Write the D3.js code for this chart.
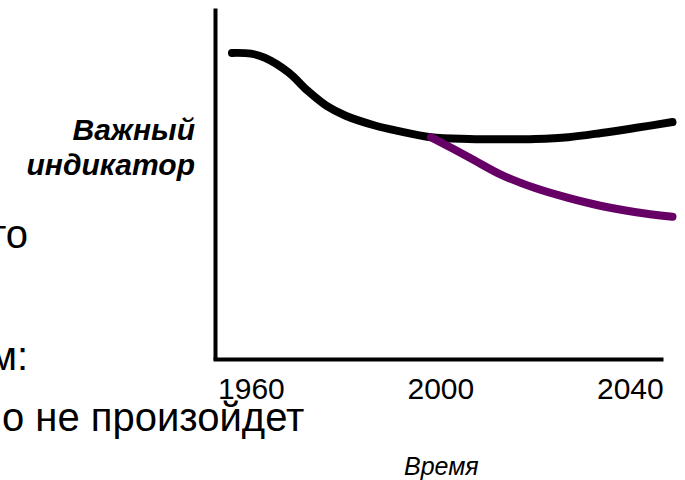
<!DOCTYPE html>
<html><head><meta charset="utf-8">
<script src="https://cdn.jsdelivr.net/npm/d3@7"></script>
<style>body{margin:0;background:#fff}svg{display:block}</style>
</head><body>
<svg id="c" width="685" height="480"></svg>
<script>
// Baseline indicator trajectory (black)
const baseYears  = [1956, 1960, 1963, 1968, 1972, 1976, 1980, 1986, 1991, 1998, 2006, 2013, 2020, 2027, 2034, 2041, 2049];
const baseValues = [87.2, 87.0, 85.8, 81.6, 76.4, 72.1, 69.3, 66.6, 65.0, 63.2, 62.7, 62.6, 62.7, 63.2, 64.4, 65.8, 67.5];
// Alternative trajectory (purple)
const altYears  = [1998, 2006, 2013, 2020, 2027, 2034, 2041, 2049];
const altValues = [63.2, 57.5, 52.4, 48.7, 45.9, 43.6, 41.9, 40.5];
const tickYears = [1960, 2000, 2040];
const yLabel = ["Важный", "индикатор"];
const xLabel = "Время";
const fragments = ["то", "м:", "о не произойдет"];

const svg = d3.select("#c");
const x = d3.scaleLinear().domain([1952, 2047]).range([213, 663]);
const y = d3.scaleLinear().domain([0, 100]).range([359, 8]);
const font = "Liberation Sans, Arial, sans-serif";

// background slide text fragments
svg.append("text").attr("x", 28).attr("y", 248).attr("text-anchor", "end")
  .attr("font-family", font).attr("font-size", 40).attr("fill", "#000").text(fragments[0]);
svg.append("text").attr("x", 28).attr("y", 370).attr("text-anchor", "end")
  .attr("font-family", font).attr("font-size", 40).attr("fill", "#000").text(fragments[1]);
svg.append("text").attr("x", 2).attr("y", 431)
  .attr("font-family", font).attr("font-size", 40).attr("fill", "#000").text(fragments[2]);

// axes
const xAxis = d3.axisBottom(x).tickValues(tickYears).tickFormat(d3.format("d")).tickSize(0).tickPadding(19);
const gx = svg.append("g").attr("transform", "translate(0,359)").call(xAxis);
gx.select(".domain").attr("stroke", "#000").attr("stroke-width", 4);
gx.selectAll("text").attr("font-family", font).attr("font-size", 30).attr("fill", "#000");

const yAxis = d3.axisLeft(y).tickValues([]).tickSizeOuter(0);
const gy = svg.append("g").attr("transform", "translate(215,0)").call(yAxis);
gy.select(".domain").attr("stroke", "#000").attr("stroke-width", 4);

// lines
const line = d3.line().x(d => x(d[0])).y(d => y(d[1])).curve(d3.curveCatmullRom.alpha(0.5));
svg.append("path").datum(baseYears.map((d, i) => [d, baseValues[i]]))
  .attr("d", line).attr("fill", "none").attr("stroke", "#000").attr("stroke-width", 8).attr("stroke-linecap", "round");
svg.append("path").datum(altYears.map((d, i) => [d, altValues[i]]))
  .attr("d", line).attr("fill", "none").attr("stroke", "#660066").attr("stroke-width", 8).attr("stroke-linecap", "round");

// labels
const lab = svg.append("text").attr("text-anchor", "end")
  .attr("font-family", font).attr("font-size", 30)
  .attr("font-weight", "bold").attr("font-style", "italic").attr("fill", "#000");
lab.append("tspan").attr("x", 195).attr("y", 140).text(yLabel[0]);
lab.append("tspan").attr("x", 195).attr("y", 175).text(yLabel[1]);

svg.append("text").attr("x", 404).attr("y", 475)
  .attr("font-family", font).attr("font-size", 25)
  .attr("font-style", "italic").attr("fill", "#000").text(xLabel);
</script>
</body></html>
